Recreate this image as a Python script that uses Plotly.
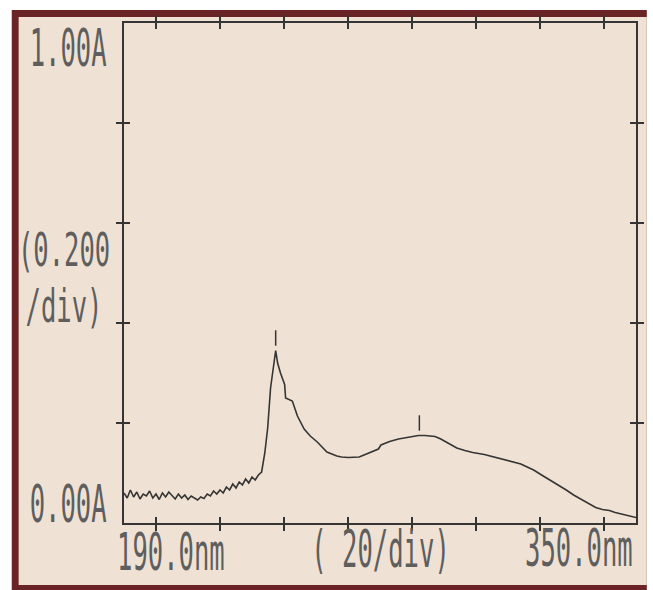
import plotly.graph_objects as go

# ---- data ----
wavelength_nm = [
    190, 191, 192, 193, 194, 195, 196, 197, 198, 199,
    200, 201, 202, 203, 204, 205, 206, 207, 208, 209,
    210, 211, 212, 213, 214, 215, 216, 217, 218, 219,
    220, 221, 222, 223, 224, 225, 226, 227, 228, 229,
    230, 231, 232, 233, 234, 234.9, 235.8, 236.6, 237.4, 238,
    238.9, 240.2, 240.5, 242.6, 244.2, 246.3, 248.2, 250.4, 253.4, 256.5,
    258, 260, 262, 263.5, 265, 266.5, 267.8, 269.5, 270.3, 271,
    273, 275.8, 278, 280, 282, 284, 287.2, 289, 290.3, 292,
    294, 296.5, 299, 302.6, 305, 308.8, 311, 314, 316, 318,
    320.5, 323.2, 325.5, 328.2, 330.5, 333.4, 335.5, 337.4, 339.5, 341.7,
    343.5, 345.7, 348, 350,
]
absorbance = [
    0.060, 0.050, 0.066, 0.052, 0.062, 0.048, 0.058, 0.054, 0.064, 0.050,
    0.058, 0.047, 0.060, 0.052, 0.062, 0.054, 0.048, 0.058, 0.050, 0.056,
    0.047, 0.054, 0.050, 0.046, 0.052, 0.049, 0.058, 0.054, 0.064, 0.058,
    0.066, 0.060, 0.072, 0.066, 0.078, 0.070, 0.082, 0.076, 0.088, 0.080,
    0.092, 0.086, 0.096, 0.102, 0.140, 0.190, 0.270, 0.310, 0.345, 0.320,
    0.300, 0.277, 0.250, 0.244, 0.214, 0.188, 0.174, 0.162, 0.142, 0.134,
    0.132, 0.131, 0.131, 0.132, 0.136, 0.140, 0.145, 0.148, 0.156, 0.158,
    0.163, 0.168, 0.171, 0.173, 0.175, 0.175, 0.173, 0.168, 0.163, 0.157,
    0.150, 0.145, 0.141, 0.137, 0.133, 0.127, 0.123, 0.118, 0.112, 0.106,
    0.096, 0.086, 0.076, 0.066, 0.056, 0.045, 0.037, 0.031, 0.027, 0.025,
    0.021, 0.018, 0.014, 0.011,
]
peak_nm = [237.4, 282.3]
peak_mark_abs = [0.37, 0.20]

x_range = [190, 350]
y_range = [0, 1]
x_tick_vals = [200, 220, 240, 260, 280, 300, 320, 340]
y_tick_vals = [0.2, 0.4, 0.6, 0.8]

x_labels = ["190.0nm", "( 20/div)", "350.0nm"]
y_labels = ["1.00A", "(0.200<br>/div)", "0.00A"]

# ---- styling ----
INK = "#353535"
TEXT = "#5e5e5e"
BEIGE = "#efe2d4"
FRAME = "#6b2426"
FONT = "DejaVu Sans Mono"
FS = 36

fig = go.Figure()
fig.add_trace(go.Scatter(x=wavelength_nm, y=absorbance, mode="lines",
                         line=dict(color=INK, width=1.6), showlegend=False,
                         hoverinfo="skip"))
fig.add_trace(go.Scatter(x=peak_nm, y=peak_mark_abs, mode="markers",
                         marker=dict(symbol="line-ns", size=11,
                                     line=dict(color=INK, width=1.5)),
                         showlegend=False, hoverinfo="skip"))
# invisible trace to anchor the overlay axes (inside ticks)
fig.add_trace(go.Scatter(x=wavelength_nm, y=absorbance, mode="lines",
                         line=dict(width=0, color="rgba(0,0,0,0)"),
                         xaxis="x2", yaxis="y2", showlegend=False,
                         hoverinfo="skip"))

axis_common = dict(showgrid=False, zeroline=False, showline=True,
                   linecolor=INK, linewidth=2, tickcolor=INK, tickwidth=1.5,
                   ticklen=6, mirror="ticks", showticklabels=False)

fig.update_layout(
    width=653, height=590,
    margin=dict(l=124, r=9, t=23, b=67),
    paper_bgcolor="white", plot_bgcolor=BEIGE,
    xaxis=dict(range=x_range, tickvals=x_tick_vals, ticks="outside", **axis_common),
    yaxis=dict(range=y_range, tickvals=y_tick_vals, ticks="outside", **axis_common),
    xaxis2=dict(range=x_range, tickvals=x_tick_vals, ticks="inside",
                overlaying="x", anchor="y2", **axis_common),
    yaxis2=dict(range=y_range, tickvals=y_tick_vals, ticks="inside",
                overlaying="y", anchor="x2", **axis_common),
)

# page frame (paper fractions derived from the 653x590 canvas)
W, H = 653, 590
L, R, T, B = 124, 644, 23, 523
def fx(px):
    return (px - L) / (R - L)
def fy(py):
    return (B - py) / (B - T)

fig.add_shape(type="rect", xref="paper", yref="paper", layer="below",
              x0=fx(10), x1=fx(W + 2), y0=fy(H + 2), y1=fy(10),
              fillcolor=FRAME, line=dict(width=0))
fig.add_shape(type="rect", xref="paper", yref="paper", layer="below",
              x0=fx(17), x1=fx(W + 2), y0=fy(585), y1=fy(17),
              fillcolor=BEIGE, line=dict(width=0))

label_pos = {
    "1.00A": (68, 48),
    "(0.200<br>/div)": (63, 280),
    "0.00A": (68, 504),
    "190.0nm": (172, 552),
    "( 20/div)": (384, 549),
    "350.0nm": (586, 548),
}
for txt in y_labels + x_labels:
    px, py = label_pos[txt]
    fig.add_annotation(text=txt, xref="paper", yref="paper",
                       x=fx(px), y=fy(py), xanchor="center", yanchor="middle",
                       showarrow=False, align="center",
                       font=dict(family=FONT, size=FS, color=TEXT))

post = """
document.body.style.margin = '0';
document.body.style.padding = '0';
var gd = document.getElementById('{plot_id}');
function squeeze(){
  gd.querySelectorAll('.annotation-text').forEach(function(t){
    var lines = t.querySelectorAll('tspan.line');
    var sy = 1.42;
    if (lines.length > 1) {
      for (var i = 1; i < lines.length; i++) { lines[i].setAttribute('dy', '1.2em'); }
      sy = 1.30;
    }
    t.style.transformBox = 'fill-box';
    t.style.transformOrigin = 'center';
    t.style.transform = 'scale(0.71, ' + sy + ')';
  });
}
squeeze();
gd.on('plotly_afterplot', squeeze);
"""

fig.write_html("out.html", post_script=post, config={"displayModeBar": False})
